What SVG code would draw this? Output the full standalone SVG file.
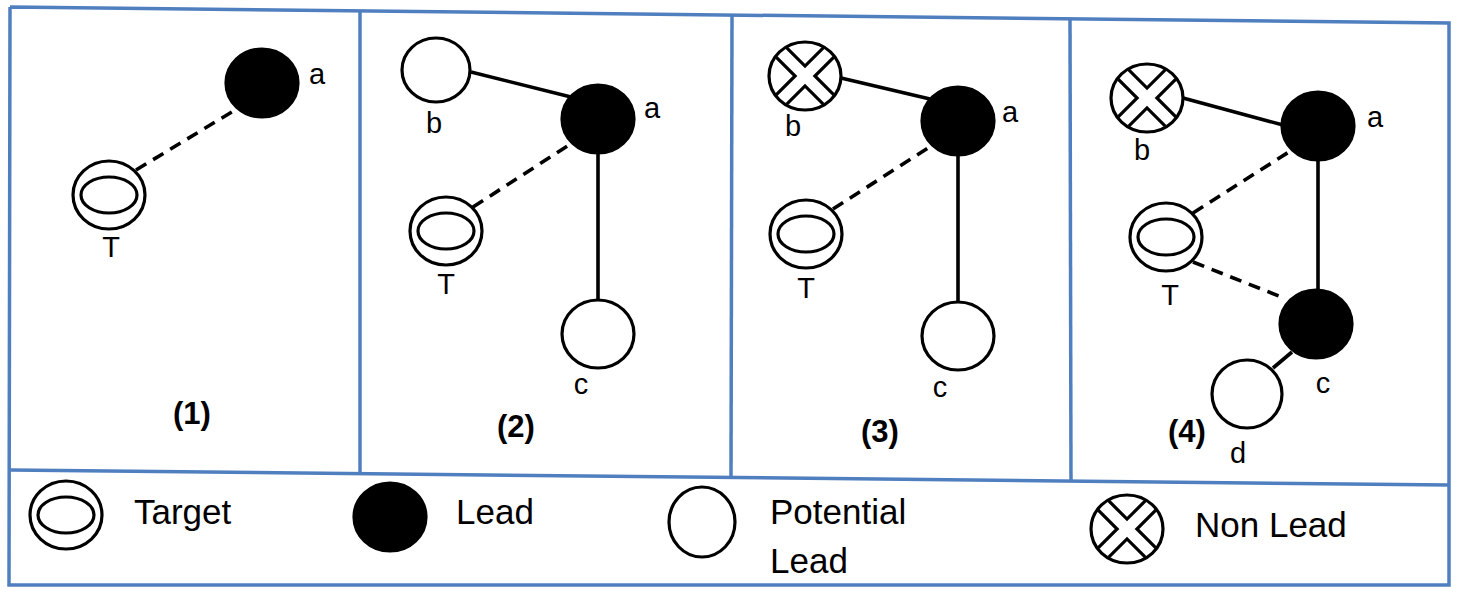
<svg xmlns="http://www.w3.org/2000/svg" width="1459" height="611" viewBox="0 0 1459 611">
<style>
.frame{fill:none;stroke:#4f7fbf;stroke-width:3.5;stroke-linejoin:miter}
.nd{stroke:#000;stroke-width:3.2}
.pot{fill:#fff}
.lead{fill:#000}
.edge{stroke:#000;stroke-width:3.6;fill:none}
.dash{stroke-dasharray:12 8}
.lbl{font-family:"Liberation Sans",Arial,sans-serif;font-size:29px;fill:#000;text-anchor:middle}
.num{font-family:"Liberation Sans",Arial,sans-serif;font-size:31px;font-weight:bold;fill:#000;text-anchor:middle}
.leg{font-family:"Liberation Sans",Arial,sans-serif;font-size:35px;fill:#000}
</style>
<defs>
<g id="target">
<ellipse cx="0" cy="0" rx="36" ry="34" fill="#fff" stroke="#000" stroke-width="3.2"/>
<ellipse cx="0" cy="0" rx="28" ry="18" fill="none" stroke="#000" stroke-width="3.2"/>
</g>
<clipPath id="xclip"><ellipse cx="0" cy="0" rx="35" ry="33"/></clipPath>
<g id="nonlead">
<ellipse cx="0" cy="0" rx="36" ry="34" fill="#fff"/>
<g clip-path="url(#xclip)">
<polygon transform="rotate(45)" points="7,-60 7,-7 60,-7 60,7 7,7 7,60 -7,60 -7,7 -60,7 -60,-7 -7,-7 -7,-60" fill="#fff" stroke="#000" stroke-width="3.2"/>
</g>
<ellipse cx="0" cy="0" rx="36" ry="34" fill="none" stroke="#000" stroke-width="3.2"/>
</g>
</defs>

<g id="frames">
<polyline class="frame" points="10,7 1449,23 1449,585 9,585 10,7"/>
<line class="frame" x1="10" y1="470" x2="1449" y2="485"/>
<line class="frame" x1="360" y1="10" x2="360" y2="474"/>
<line class="frame" x1="732" y1="15" x2="731" y2="478"/>
<line class="frame" x1="1070" y1="19" x2="1071" y2="482"/>
</g>

<g id="connectors">
<line class="edge dash" x1="136" y1="170" x2="240" y2="107"/>
<line class="edge" x1="471" y1="72" x2="571" y2="97"/>
<line class="edge dash" x1="473" y1="207" x2="572" y2="143"/>
<line class="edge" x1="598" y1="153" x2="598" y2="300"/>
<line class="edge" x1="841" y1="78" x2="930" y2="99"/>
<line class="edge dash" x1="833" y1="209" x2="931" y2="146"/>
<line class="edge" x1="958" y1="155" x2="958" y2="303"/>
<line class="edge" x1="1183" y1="98" x2="1283" y2="125"/>
<line class="edge" x1="1318" y1="159" x2="1318" y2="291"/>
<line class="edge dash" x1="1193" y1="213" x2="1292" y2="150"/>
<line class="edge dash" x1="1193" y1="262" x2="1284" y2="298"/>
<line class="edge" x1="1273" y1="368" x2="1292" y2="352"/>
</g>

<g id="panel1">
<g id="p1-a"><ellipse class="nd lead" cx="262" cy="83" rx="36" ry="34"/><text class="lbl" x="317" y="84">a</text></g>
<g id="p1-T"><use href="#target" x="109" y="195"/><text class="lbl" x="111" y="257">T</text></g>
<text class="num" x="192" y="424">(1)</text>
</g>

<g id="panel2">
<g id="p2-b"><ellipse class="nd pot" cx="436" cy="70" rx="34" ry="32"/><text class="lbl" x="434" y="133">b</text></g>
<g id="p2-a"><ellipse class="nd lead" cx="598" cy="119" rx="36" ry="34"/><text class="lbl" x="652" y="118">a</text></g>
<g id="p2-T"><use href="#target" x="446" y="231"/><text class="lbl" x="446" y="294">T</text></g>
<g id="p2-c"><ellipse class="nd pot" cx="598" cy="334" rx="36" ry="34"/><text class="lbl" x="581" y="394">c</text></g>
<text class="num" x="516" y="437">(2)</text>
</g>

<g id="panel3">
<g id="p3-b"><use href="#nonlead" x="805" y="76"/><text class="lbl" x="793" y="136">b</text></g>
<g id="p3-a"><ellipse class="nd lead" cx="958" cy="121" rx="36" ry="34"/><text class="lbl" x="1010" y="122">a</text></g>
<g id="p3-T"><use href="#target" x="806" y="234"/><text class="lbl" x="806" y="298">T</text></g>
<g id="p3-c"><ellipse class="nd pot" cx="958" cy="336" rx="36" ry="34"/><text class="lbl" x="940" y="397">c</text></g>
<text class="num" x="880" y="442">(3)</text>
</g>

<g id="panel4">
<g id="p4-b"><use href="#nonlead" x="1147" y="98"/><text class="lbl" x="1142" y="160">b</text></g>
<g id="p4-a"><ellipse class="nd lead" cx="1318" cy="126" rx="36" ry="34"/><text class="lbl" x="1375" y="127">a</text></g>
<g id="p4-T"><use href="#target" x="1166" y="237"/><text class="lbl" x="1170" y="305">T</text></g>
<g id="p4-c"><ellipse class="nd lead" cx="1316" cy="324" rx="36" ry="34"/><text class="lbl" x="1323" y="393">c</text></g>
<g id="p4-d"><ellipse class="nd pot" cx="1247" cy="394" rx="35" ry="34"/><text class="lbl" x="1238" y="463">d</text></g>
<text class="num" x="1187" y="442">(4)</text>
</g>

<g id="legend">
<g id="leg-target"><use href="#target" x="66" y="515"/><text class="leg" x="134" y="524">Target</text></g>
<g id="leg-lead"><ellipse class="nd lead" cx="390" cy="517" rx="36" ry="34"/><text class="leg" x="456" y="524">Lead</text></g>
<g id="leg-pot"><ellipse class="nd pot" cx="702" cy="522" rx="33" ry="35"/><text class="leg" x="770" y="524">Potential</text><text class="leg" x="770" y="573">Lead</text></g>
<g id="leg-non"><use href="#nonlead" x="1127" y="529"/><text class="leg" x="1195" y="537">Non Lead</text></g>
</g>
</svg>
